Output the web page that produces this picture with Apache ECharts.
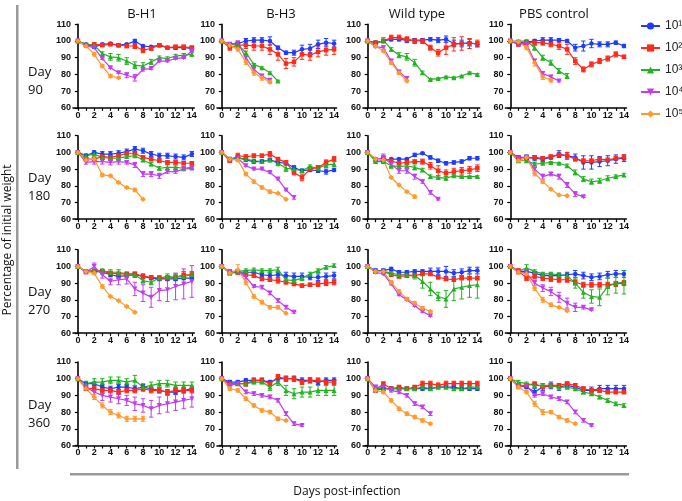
<!DOCTYPE html>
<html><head><meta charset="utf-8">
<script src="https://cdn.jsdelivr.net/npm/echarts@6/dist/echarts.min.js"></script>
<style>html,body{margin:0;padding:0;background:#fff}#c{width:682px;height:501px}</style>
</head><body><div id="c"></div>
<script>
// ---------- labels ----------
const days = [0,1,2,3,4,5,6,7,8,9,10,11,12,13,14];
const doseNames = ['10¹','10²','10³','10⁴','10⁵'];
const groupNames = ['B-H1','B-H3','Wild type','PBS control'];
const rowNames = ['90','180','270','360'];
const xTickLabels = [0,2,4,6,8,10,12,14];
const yTickLabels = [60,70,80,90,100,110];

// ---------- data: [10^1, 10^2, 10^3, 10^4, 10^5] ----------
// Day 90
const BH1_D90 = [
 [100,98,96.5,98,98.5,97.5,98,100,97,96.5,97.5,96,96,96,95.5],
 [100,97.5,98,97.5,98,97.5,97,97,94.5,95.5,97.5,96,96.5,96.5,96],
 [100,98,97.5,92.5,90.5,90,88,85.5,85,87.5,90,89.5,91,91.5,92],
 [100,97,96,89.5,84,81,79.5,78,83,83.5,88,88,89.5,90,94],
 [100,97,92,85,79,78]];
const BH1_D90_err = [
 [0,.5,1,.5,.5,1,.5,1,.5,.5,.5,.5,1,1,1],
 [0,.5,1,.5,.5,.5,1,1.5,1.5,1,1,.5,1,1,1],
 [0,.5,1,1,2,2,2,2,2,1.5,1,1,1,1,1],
 [0,.5,.5,.5,.5,.5,1.5,2,1,.5,.5,.5,.5,.5,.5],
 [0,.5,1,1,1,.5]];
const BH3_D90 = [
 [100,98,98.5,100,100.5,100.5,100,96,93,93,95,95.5,98,99,98.5],
 [100,96,97.5,97.5,97,97,95,92,86.5,87.5,92,91.5,93.5,94.5,95],
 [100,98,98,93,86,84,81,76],
 [100,98,99,90,83,79,76.5],
 [100,97.5,95,87.5,81,78,75.5]];
const BH3_D90_err = [
 [0,1,1,1.5,1.5,1.5,2.5,1,1,1.5,2.5,2.5,2.5,2.5,2],
 [0,1.5,1.5,2,2.5,2.5,3,3.5,3,2.5,3,3,3,3,3],
 [0,.5,.5,1,.5,.5,.5,.5],
 [0,.5,.5,1,1,1,1],
 [0,.5,1,1.5,1.5,1.5,1]];
const WT_D90 = [
 [100,99,100,101,101,100.5,100.5,100.5,101,100.5,101,98.5,98.5,99,98],
 [100,99,100,102,102,101,100,100,96,93,96,98,98.5,98.5,98.5],
 [100,98,100.5,95,91.5,90.5,87,81,77,77.5,78.5,78,79,81,80],
 [100,96.5,96,88,81.5,77.5],
 [100,97,94,87,81,76]];
const WT_D90_err = [
 [0,1,1,1,1,1.5,1,1,1,1.5,2,2,2,2,1.5],
 [0,.5,1,1.5,1.5,1.5,1.5,1.5,1.5,2,4,4,4,3,2],
 [0,1,1.5,1,1.5,2,2,1,.5,.5,.5,.5,.5,.5,.5],
 [0,.5,1,1,1,1],
 [0,.5,.5,1,1,.5]];
const PBS_D90 = [
 [100,99,99.5,100,100.5,100.5,100.5,100,96,97,98.5,98,98,99,97],
 [100,98,99,99,99,98,97,95,88,83,86,88,89.5,92,90.5],
 [100,100,100,96,90,87,82,79],
 [100,98,98,88,80.5,78.5,76],
 [100,99.5,96,87,78.5,76.5]];
const PBS_D90_err = [
 [0,1,1,1,1.5,1.5,1,1,2,3,2.5,1.5,1.5,1,1],
 [0,1,1,1.5,1.5,1.5,2,3,2,1.5,1.5,1.5,1.5,1.5,1],
 [0,.5,.5,1.5,1.5,1.5,1.5,1.5],
 [0,1,1,1,1,1,.5],
 [0,1,1,2,1.5,1]];
// Day 180
const BH1_D180 = [
 [100,98,100,99,99,99.5,100.5,102,101,99,98,98,97.5,97,99],
 [100,96,96,97.5,97,98,99.5,99.5,97,96,95,94,94,93.5,93.5],
 [100,98,99,97,96.5,96.5,97.5,98,95.5,93,90.5,91,91,90.5,91],
 [100,94,94.5,94.5,94,94.5,94,92.5,87,87,86,88.5,88.5,90,90.5],
 [100,95.5,96,86.5,86,82,79,77.5,72]];
const BH1_D180_err = [
 [0,1,1,1.5,1.5,1.5,1.5,1.5,1.5,1.5,1.5,1.5,1.5,1.5,1.5],
 [0,1,1,1,1,1,1,1,1,1,1,1,1,1,1],
 [0,1,1,1,1,1,1,1,1,1,1,1.5,1,1,1],
 [0,1,1.5,1.5,1.5,1.5,1,1.5,1.5,1.5,1.5,1,1,1,1],
 [0,.5,1,1,.5,.5,.5,1,.5]];
const BH3_D180 = [
 [100,96,97,95.5,94.5,94.5,95.5,94,93.5,91,89,89.5,89,88.5,89.5],
 [100,95,98,97.5,98,98,99,96,94,88,85,90,91,94,96],
 [100,96,96.5,96,95,94.5,95.5,93.5,90.5,90,89,91.5,90.5,92.5,93],
 [100,95,96.5,92,90,90,88,84,77.5,73],
 [100,96,95.5,87,82.5,79,76.5,75.5,72]];
const BH3_D180_err = [
 [0,1,1,1,1,1,1,1,1,1,1,1,1,1.5,1],
 [0,1,1.5,1,1,1,1.5,1,1,1.5,2,1.5,1,1.5,1.5],
 [0,1,1,1,1,1,1,1.5,2,1.5,1,1,1,1.5,1.5],
 [0,.5,1,.5,.5,.5,.5,.5,.5,1],
 [0,1,1,1,1,1,1,.5,.5]];
const WT_D180 = [
 [100,96,95,96,96,96,98.5,99.5,97,95,93.5,94,94.5,96.5,96.5],
 [100,95.5,96.5,95,93.5,94,94.5,94.5,92,89,87.5,88.5,89,89.5,90.5],
 [100,94.5,94.5,92,91.5,92,91,89.5,85.5,85,84.5,86,85.5,85.5,85.5],
 [100,95.5,97,93,89,89,85.5,82.5,76,72],
 [100,96,95.5,85,80.5,76.5,73.5]];
const WT_D180_err = [
 [0,.5,1,.5,.5,.5,1,.5,1,1,1,1,1,1,1],
 [0,1,1,1,1,1,1,1.5,2,3,2,2,2,2,2],
 [0,1,1,1.5,1,1,1.5,1,1,1,1,.5,.5,.5,.5],
 [0,1,2,1.5,1.5,1.5,1.5,1,1,.5],
 [0,.5,.5,.5,.5,.5,1]];
const PBS_D180 = [
 [100,97,97,96.5,96,97,99,98,97,94,94,94.5,95,96,96.5],
 [100,97,96.5,97,96.5,97.5,98.5,98,96,95,95,96,95.5,96.5,97],
 [100,95,95,93,93.5,94,93.5,92,88,84,82.5,83,84.5,85.5,86.5],
 [100,96.5,97,90,85.5,87,85.5,80.5,75,73.5],
 [100,95,97,87.5,82.5,78,74.5,74]];
const PBS_D180_err = [
 [0,1,1.5,1.5,1.5,1,2,2,2,4,4,3,3,2.5,2],
 [0,1,1,1,1,1,1,2,1,1,1,1,1,1,1.5],
 [0,1,1,1,.5,.5,.5,1,1.5,1.5,1.5,1.5,1.5,1,1],
 [0,1,1,1,1.5,1,1.5,1.5,1.5,.5],
 [0,1,1,1.5,1,.5,.5,.5]];
// Day 270
const BH1_D270 = [
 [100,97,97,96.5,95,94,94.5,95,94,93,92.5,92.5,92.5,93,93],
 [100,97,97,97,96,95.5,95.5,95.5,94,93.5,93,93,93.5,95,95],
 [100,97,97.5,97.5,96.5,96.5,95.5,95,91.5,90.5,93,94,93.5,94,95],
 [100,96.5,100,95,91,92,92.5,86.5,84,81.5,85.5,86,88,89.5,91],
 [100,97,96,88,82,79.5,76,72.5]];
const BH1_D270_err = [
 [0,.5,1,1,1,1,1,1.5,1.5,1,1,1,1,1,1],
 [0,.5,1,1,1,1,1,1,1,1,1,1.5,2,2,2],
 [0,.5,1,1,1.5,1.5,1,1,1.5,1.5,1.5,1.5,1.5,1.5,1.5],
 [0,1,2,2,2,3,3,4,5,6,6,7,8,9,9.5],
 [0,.5,1,1,.5,.5,.5,.5]];
const BH3_D270 = [
 [100,96,96.5,96.5,96.5,95,94.5,95,94.5,94,94,93.5,93.5,94,94.5],
 [100,96.5,96.5,95,94.5,92.5,92,91.5,90.5,89.5,88.5,89,89.5,90,90.5],
 [100,96,97,97.5,98,97.5,97.5,98,92,91.5,93,95.5,97.5,99.5,100.5],
 [100,97,97,93.5,88,87.5,84,79.5,75.5,72.5],
 [100,96,98,90.5,82,78.5,75.5,75.5,72]];
const BH3_D270_err = [
 [0,1,1,1,1,1,1.5,1.5,2,2,2,1.5,2,2,2],
 [0,.5,1,1,1,1,1,1.5,1,1,1,1,1.5,1.5,1.5],
 [0,.5,1,1,1,1,1,1.5,1.5,1.5,1.5,1,1,1,1],
 [0,.5,1,1,.5,1,1,1,1,.5],
 [0,1,3,1.5,1,1,1,1,.5]];
const WT_D270 = [
 [100,97.5,97.5,98.5,96.5,96.5,97,97,97,97,97,96,96.5,97.5,97.5],
 [100,97,97,95,94,94.5,94.5,95.5,95.5,93.5,92.5,92,93,93,93],
 [100,97,97,96,95,95,94.5,91,86.5,82,80.5,86.5,87.5,88.5,89],
 [100,96.5,95.5,89.5,83,80,76.5,73,70.5],
 [100,97,97,90.5,85,80.5,78,75,73]];
const WT_D270_err = [
 [0,1,1,1,1,1,1,1,2,2,3,2,2,2,2],
 [0,1,1,1,1,1,1,1,1,1,1,1,1,1,1],
 [0,1,1,1,1.5,1.5,2,4,4,2.5,5,7,7,7,8],
 [0,.5,.5,.5,.5,.5,.5,.5,.5],
 [0,.5,.5,1,1,.5,1,1,.5]];
const PBS_D270 = [
 [100,97,97,96,94.5,94.5,94.5,95,95.5,94.5,93.5,94,95,95.5,95.5],
 [100,97.5,93,94,93,92.5,92,92,90.5,89,89,89,89,89.5,90],
 [100,97,99,97,95.5,95.5,95,94.5,90,84.5,82,81.5,88,90,90.5],
 [100,96.5,96,90,87,85,81.5,78,75.5,75.5,74],
 [100,96.5,95.5,87,80,77,75.5,73.5]];
const PBS_D270_err = [
 [0,1,1,1,1.5,1.5,1.5,1.5,2,2,2,2,2,2,2],
 [0,1,1.5,1.5,1.5,1.5,1.5,1.5,1.5,1.5,1.5,1.5,1.5,1.5,1.5],
 [0,1,2,1,1,1,1,1.5,3,3.5,4,5,5,6,7],
 [0,1,1.5,1.5,2,2.5,3,3,2.5,1,.5],
 [0,1,1,1.5,1.5,1,.5,.5]];
// Day 360
const BH1_D360 = [
 [100,97,97,95,94,95,95,94,95,94,93,92,92,93,94],
 [100,94,94,93,93,92,93,93,94,93,93,92,93,93,93],
 [100,97,98,98,99,99,98,99,95,96,97,97,96,96,96],
 [100,95,92,90,89,88,87,85,84,82,84,85,86,87,88],
 [100,94,89,84,80,78,76,76,76]];
const BH1_D360_err = [
 [0,1,1,1.5,1.5,1.5,1.5,1.5,1.5,1.5,1.5,1.5,1.5,1.5,1.5],
 [0,1,1.5,1.5,1.5,1.5,1.5,1.5,1.5,1.5,1.5,1.5,1.5,1.5,1.5],
 [0,1.5,2,2,2,2,2,3,2,2,2,2,2,2,2],
 [0,2,3,3,3,3,3,4,4,5,5,5,5,5,5],
 [0,1,1.5,1.5,1.5,1.5,1.5,1.5,1.5]];
const BH3_D360 = [
 [100,98,98,99,99,99,98,100,100,100,99,99,98,99,99],
 [100,97,97,97,99,99,97,101,100,100,98,99,99,98,98],
 [100,97,97,97,98,98,95,98,93,91,92,92,93,93,93],
 [100,96,97,92,91,90,89,87,79,73,72],
 [100,94,93,88,84,81,80,76,75]];
const BH3_D360_err = [
 [0,1,1,1,1,1,1,1.5,1.5,1.5,1.5,1.5,1.5,1.5,1.5],
 [0,1,1,1.5,1.5,1.5,1.5,1.5,1.5,1.5,1.5,1.5,1.5,1.5,1.5],
 [0,1,1,1,1,1,2,2,3,3,3,3,3,3,3],
 [0,1,1,1,1,1,1,1,1,1,.5],
 [0,1,1,1,1,1,1,1,.5]];
const WT_D360 = [
 [100,93,94,94,94,94,94,94,94,95,95,95,94,94,94],
 [100,93,97,94,95,94,95,97,97,96,97,97,97,97,97],
 [100,94,94,94,94,94,94,95,94,95,95,94,94,95,95],
 [100,95,95,93,92,90,85,83,79],
 [100,93,92,87,82,79,77,75,73]];
const WT_D360_err = [
 [0,1,1,1,1,1,1,1,1,1,1,1,1,1,1],
 [0,1,1,1,1,1,1,1.5,1.5,1.5,1.5,1.5,1.5,1.5,1.5],
 [0,1,1,1,1,1,1,1,1,1,1,1,1,1,1],
 [0,1,1,1,1,1,1,1,1],
 [0,1,1,1,1,1,1,1,.5]];
const PBS_D360 = [
 [100,96,95,92,95,96,95,96,95,93,93,94,94,94,94],
 [100,96,96,97,95,96,96,97,96,94,93,93,92,92,92],
 [100,98,97,96,96,96,95,95,94,92,91,89,87,85,84],
 [100,95,96,90,91,89,88,86,80,75,72],
 [100,95,92,85,80,80,77,75,73]];
const PBS_D360_err = [
 [0,1,1,2,2,2,2,2,2,2,2,2,2,2,2],
 [0,1,1,1,1,1,1,1,1,1,1,1,1,1,1],
 [0,1,1,1,1,1,1,1,1,1,1,1,1,1,1],
 [0,1,1,1,1,1,1,1,1,1,.5],
 [0,1,1,1.5,1.5,1,1,1,.5]];

// ---------- panel assembly ----------
const panels = [
 [[BH1_D90,BH1_D90_err],[BH3_D90,BH3_D90_err],[WT_D90,WT_D90_err],[PBS_D90,PBS_D90_err]],
 [[BH1_D180,BH1_D180_err],[BH3_D180,BH3_D180_err],[WT_D180,WT_D180_err],[PBS_D180,PBS_D180_err]],
 [[BH1_D270,BH1_D270_err],[BH3_D270,BH3_D270_err],[WT_D270,WT_D270_err],[PBS_D270,PBS_D270_err]],
 [[BH1_D360,BH1_D360_err],[BH3_D360,BH3_D360_err],[WT_D360,WT_D360_err],[PBS_D360,PBS_D360_err]]
];

// ---------- styling ----------
const colors = ['#1e3cff','#ff2a1a','#22b322','#c23cf2','#ff9a30'];
const symbols = ['circle','rect','triangle','path://M0,0 L10,0 L5,9 Z','diamond'];
const symSizes = [4.5,4.5,5,5,5.5];
const colLeft = [73, 217, 363, 505.4];
const colWidth = [121.3, 119.5, 116.7, 121];
const rowTop = [24.3, 135.7, 249.7, 362];
const rowHeight = 83.5;
const FONT = '"Liberation Sans", Arial, sans-serif';
const TFONT = '"Open Sans", "Liberation Sans", sans-serif';

const grids = [], xAxes = [], yAxes = [], series = [];
panels.forEach((row, r) => {
  row.forEach((cell, c) => {
    const gi = grids.length;
    grids.push({left: colLeft[c], top: rowTop[r], width: colWidth[c], height: rowHeight, containLabel: false});
    xAxes.push({
      gridIndex: gi, type: 'value', min: -0.6, max: 14.3,
      axisLine: {onZero: false, lineStyle: {color: '#000', width: 1.6}},
      axisTick: {show: true, length: 3, customValues: days, lineStyle: {color: '#000', width: 1.2}},
      axisLabel: {customValues: xTickLabels, fontSize: 9, fontWeight: 'bold', color: '#111', margin: 3, fontFamily: FONT},
      splitLine: {show: false}
    });
    yAxes.push({
      gridIndex: gi, type: 'value', min: 60, max: 110, interval: 10,
      axisLine: {show: true, lineStyle: {color: '#000', width: 1.6}},
      axisTick: {show: true, length: 3, lineStyle: {color: '#000', width: 1.2}},
      axisLabel: {fontSize: 9, fontWeight: 'bold', color: '#111', margin: 2, fontFamily: FONT},
      splitLine: {show: false}
    });
    const [vals, errs] = cell;
    vals.forEach((v, s) => {
      series.push({
        type: 'line', name: doseNames[s], xAxisIndex: gi, yAxisIndex: gi,
        data: v.map((y, i) => [days[i], y]),
        symbol: symbols[s], symbolSize: symSizes[s], showAllSymbol: true,
        lineStyle: {color: colors[s], width: 1.2},
        itemStyle: {color: colors[s]},
        z: 3, animation: false
      });
      series.push({
        type: 'custom', xAxisIndex: gi, yAxisIndex: gi,
        data: v.map((y, i) => [days[i], y, errs[s][i] || 0]),
        renderItem: function (params, api) {
          const x = api.value(0), y = api.value(1), e = api.value(2);
          if (!e) return null;
          const top = api.coord([x, y + e]), bot = api.coord([x, y - e]);
          const st = {stroke: colors[s], lineWidth: 1};
          const w = 2.2;
          return {type: 'group', children: [
            {type: 'line', shape: {x1: top[0], y1: top[1], x2: bot[0], y2: bot[1]}, style: st},
            {type: 'line', shape: {x1: top[0]-w, y1: top[1], x2: top[0]+w, y2: top[1]}, style: st},
            {type: 'line', shape: {x1: bot[0]-w, y1: bot[1], x2: bot[0]+w, y2: bot[1]}, style: st}
          ]};
        },
        z: 2, animation: false, silent: true
      });
    });
  });
});

const titles = [];
const colCenters = [137, 276, 412, 549];
groupNames.forEach((g, c) => titles.push({text: g, left: colCenters[c], top: 3, textAlign: 'center',
  textStyle: {fontSize: 13, fontWeight: 'normal', color: '#111', fontFamily: TFONT}}));
const rowLabelTop = [58, 164, 278, 391];
rowNames.forEach((d, r) => titles.push({text: 'Day\n' + d, left: 23, top: rowLabelTop[r],
  textStyle: {fontSize: 13, fontWeight: 'normal', color: '#111', fontFamily: TFONT, lineHeight: 18}}));

const option = {
  backgroundColor: '#fff',
  animation: false,
  title: titles,
  grid: grids, xAxis: xAxes, yAxis: yAxes, series: series,
  legend: {
    orient: 'vertical', left: 640, top: 20, padding: 0, itemGap: 10, itemWidth: 19, itemHeight: 9,
    data: doseNames.map((n, i) => ({name: n})),
    textStyle: {fontSize: 12, color: '#222', fontFamily: FONT},
    selectedMode: false
  },
  graphic: [
    {type: 'rect', shape: {x: 16, y: 5, width: 2.5, height: 464}, style: {fill: '#9a9a9a'}},
    {type: 'rect', shape: {x: 70, y: 473, width: 559, height: 2.5}, style: {fill: '#9a9a9a'}},
    {type: 'text', x: 8, y: 240, rotation: Math.PI / 2, style: {text: 'Percentage of initial weight', fontSize: 12, fill: '#111', fontFamily: TFONT, textAlign: 'center', textVerticalAlign: 'middle'}},
    {type: 'text', x: 347, y: 492, style: {text: 'Days post-infection', fontSize: 12, fill: '#111', fontFamily: TFONT, textAlign: 'center', textVerticalAlign: 'middle'}}
  ]
};
const chart = echarts.init(document.getElementById('c'), null, {renderer: 'canvas'});
chart.setOption(option);
</script></body></html>
